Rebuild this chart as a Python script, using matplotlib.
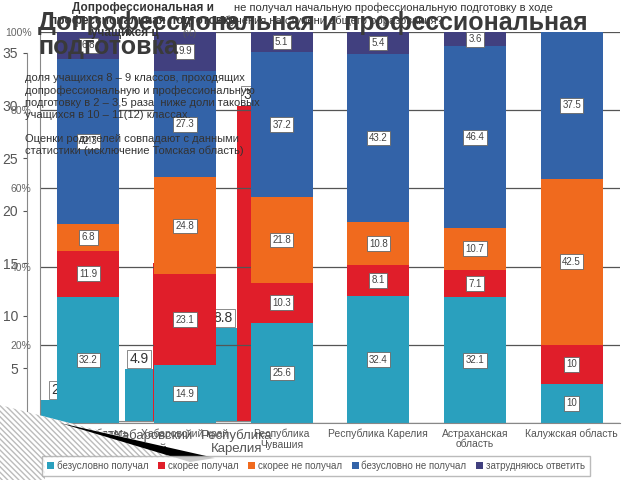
import numpy as np
import matplotlib.pyplot as plt
from matplotlib.patches import Polygon

plt.rcParams['font.family'] = ['Liberation Sans', 'DejaVu Sans']

# main chart: 100% stacked bars
regions = ['Томская область', 'Хабаровский край', 'Республика\nЧувашия',
           'Республика Карелия', 'Астраханская\nобласть', 'Калужская область']
series = ['безусловно получал', 'скорее получал', 'скорее не получал',
          'безусловно не получал', 'затрудняюсь ответить']
abs_yes = [32.2, 14.9, 25.6, 32.4, 32.1, 10]
rather_yes = [11.9, 23.1, 10.3, 8.1, 7.1, 10]
rather_no = [6.8, 24.8, 21.8, 10.8, 10.7, 42.5]
abs_no = [42.3, 27.3, 37.2, 43.2, 46.4, 37.5]
hard = [6.8, 9.9, 5.1, 5.4, 3.6, 0]
colors = ['#2aa0be', '#e01e2a', '#f06a1e', '#3363a8', '#41407f']

# chart underneath (other slide)
back_regions = ['Томская область', 'Хабаровский\nкрай', 'Республика\nКарелия']
back_8_9 = [2, 4.9, 8.8]
back_10_11 = [7, 15, 30]

fig = plt.figure(figsize=(6.4, 4.8), dpi=100)

# background chart
ax2 = fig.add_axes([27/640, 1-421/480, 252/640, 368/480])
x2 = np.arange(len(back_regions))
w2 = 0.333
b1 = ax2.bar(x2 - w2/2, back_8_9, w2, color=colors[0])
b2 = ax2.bar(x2 + w2/2, back_10_11, w2, color=colors[1])
for rect, v in zip(b1, back_8_9):
    ax2.text(rect.get_x() + rect.get_width()/2, v + 0.3, f'{v:g}', ha='center', va='bottom',
             fontsize=10, color='#333333',
             bbox=dict(boxstyle='square,pad=0.15', fc='white', ec='#777777', lw=0.6))
ax2.text(b2[2].get_x() + b2[2].get_width()/2, back_10_11[2] + 0.3, f'{back_10_11[2]:g}',
         ha='center', va='bottom', fontsize=10, color='#333333',
         bbox=dict(boxstyle='square,pad=0.15', fc='white', ec='#777777', lw=0.6))
ax2.set_xlim(-0.5, 2.5)
ax2.set_ylim(0, 35)
ax2.set_yticks(np.arange(0, 36, 5))
ax2.set_xticks(x2)
ax2.set_xticklabels(back_regions, fontsize=9.5, color='#555555', linespacing=1.1)
ax2.tick_params(axis='y', labelsize=10, colors='#555555', length=3)
ax2.tick_params(axis='x', length=0, pad=6)
for s in ['top', 'right']:
    ax2.spines[s].set_visible(False)
for s in ['left', 'bottom']:
    ax2.spines[s].set_color('#888888')

# main chart on top
ax = fig.add_axes([40/640, 1-423/480, 580/640, 391/480])
ax.patch.set_alpha(0)
x = np.arange(len(regions))
w = 0.64
data = [abs_yes, rather_yes, rather_no, abs_no, hard]
bottom = np.zeros(len(regions))
for vals, name, c in zip(data, series, colors):
    vals = np.array(vals, dtype=float)
    ax.bar(x, vals, w, bottom=bottom, color=c, label=name, zorder=2)
    for xi, b, v in zip(x, bottom, vals):
        if v > 0:
            ax.text(xi, b + v/2, f'{v:g}', ha='center', va='center', fontsize=7,
                    color='#444444', zorder=3,
                    bbox=dict(boxstyle='square,pad=0.25', fc='white', ec='#666666', lw=0.6))
    bottom += vals
ax.set_xlim(-0.5, 5.5)
ax.set_ylim(0, 100)
ax.set_yticks(np.arange(0, 101, 20))
ax.set_yticklabels([f'{v}%' for v in range(0, 101, 20)])
ax.yaxis.grid(True, color='#555555', lw=0.9, zorder=1)
ax.set_axisbelow(True)
ax.set_xticks(x)
ax.set_xticklabels(regions, fontsize=7.5, color='#555555', linespacing=1.1)
ax.tick_params(axis='y', labelsize=7.5, colors='#666666', length=0, pad=6)
ax.tick_params(axis='x', length=0, pad=4)
for s in ['top', 'right']:
    ax.spines[s].set_visible(False)
for s in ['left', 'bottom']:
    ax.spines[s].set_color('#888888')

fig.legend(loc='center', bbox_to_anchor=(316/640, 14/480), ncol=5, fontsize=7,
           frameon=True, fancybox=False, edgecolor='#aaaaaa', handlelength=0.7,
           handleheight=0.7, handletextpad=0.3, columnspacing=1.0, borderpad=0.5,
           labelcolor='#555555')

# page-curl leftover in the corner
fig.patches.append(Polygon([(0, 1-405/480), (205/640, 1-458/480), (45/640, 1-458/480),
                            (45/640, 0), (0, 0)], closed=True, transform=fig.transFigure,
                           fc='white', ec='#bbbbbb', hatch='\\\\\\\\\\\\', lw=0, zorder=5))
fig.patches.append(Polygon([(60/640, 1-423/480), (215/640, 1-458/480), (190/640, 1-462/480)],
                           closed=True, transform=fig.transFigure, fc='black', lw=0, zorder=5))

# titles of the overlapping slides
fig.text(143/640, 1-8/480, 'Допрофессиональная и', ha='center', va='center',
         fontsize=8.5, weight='bold', color='#333333')
fig.text(143/640, 1-21/480, 'профессиональная подготовка', ha='center', va='center',
         fontsize=8.5, weight='bold', color='#333333')
fig.text(125/640, 1-33/480, 'учащихся ц', ha='center', va='center',
         fontsize=8.5, weight='bold', color='#333333')
fig.text(553/640, 1-8/480, 'не получал начальную профессиональную подготовку в ходе',
         ha='right', va='center', fontsize=8, color='#333333')
fig.text(330/640, 1-21/480, 'обучения на ступени общего образования?', ha='center',
         va='center', fontsize=8, color='#333333')
fig.text(190/640, 1-33/480, '(%)', ha='center', va='center', fontsize=6.5, color='#555555')

fig.text(38/640, 1-23/480, 'Допрофессиональная и профессиональная', ha='left', va='center',
         fontsize=18, weight='bold', color='#3a3a3a', zorder=6)
fig.text(38/640, 1-47/480, 'подготовка', ha='left', va='center',
         fontsize=18, weight='bold', color='#3a3a3a', zorder=6)

note = ('доля учащихся 8 – 9 классов, проходящих\n'
        'допрофессиональную и профессиональную\n'
        'подготовку в 2 – 3,5 раза  ниже доли таковых\n'
        'учащихся в 10 – 11(12) классах.\n\n'
        'Оценки родителей совпадают с данными\n'
        'статистики (исключение Томская область)')
fig.text(25/640, 1-73/480, note, ha='left', va='top', fontsize=8, color='#333333',
         linespacing=1.25, zorder=6)

fig.savefig('out.png', dpi=100)
